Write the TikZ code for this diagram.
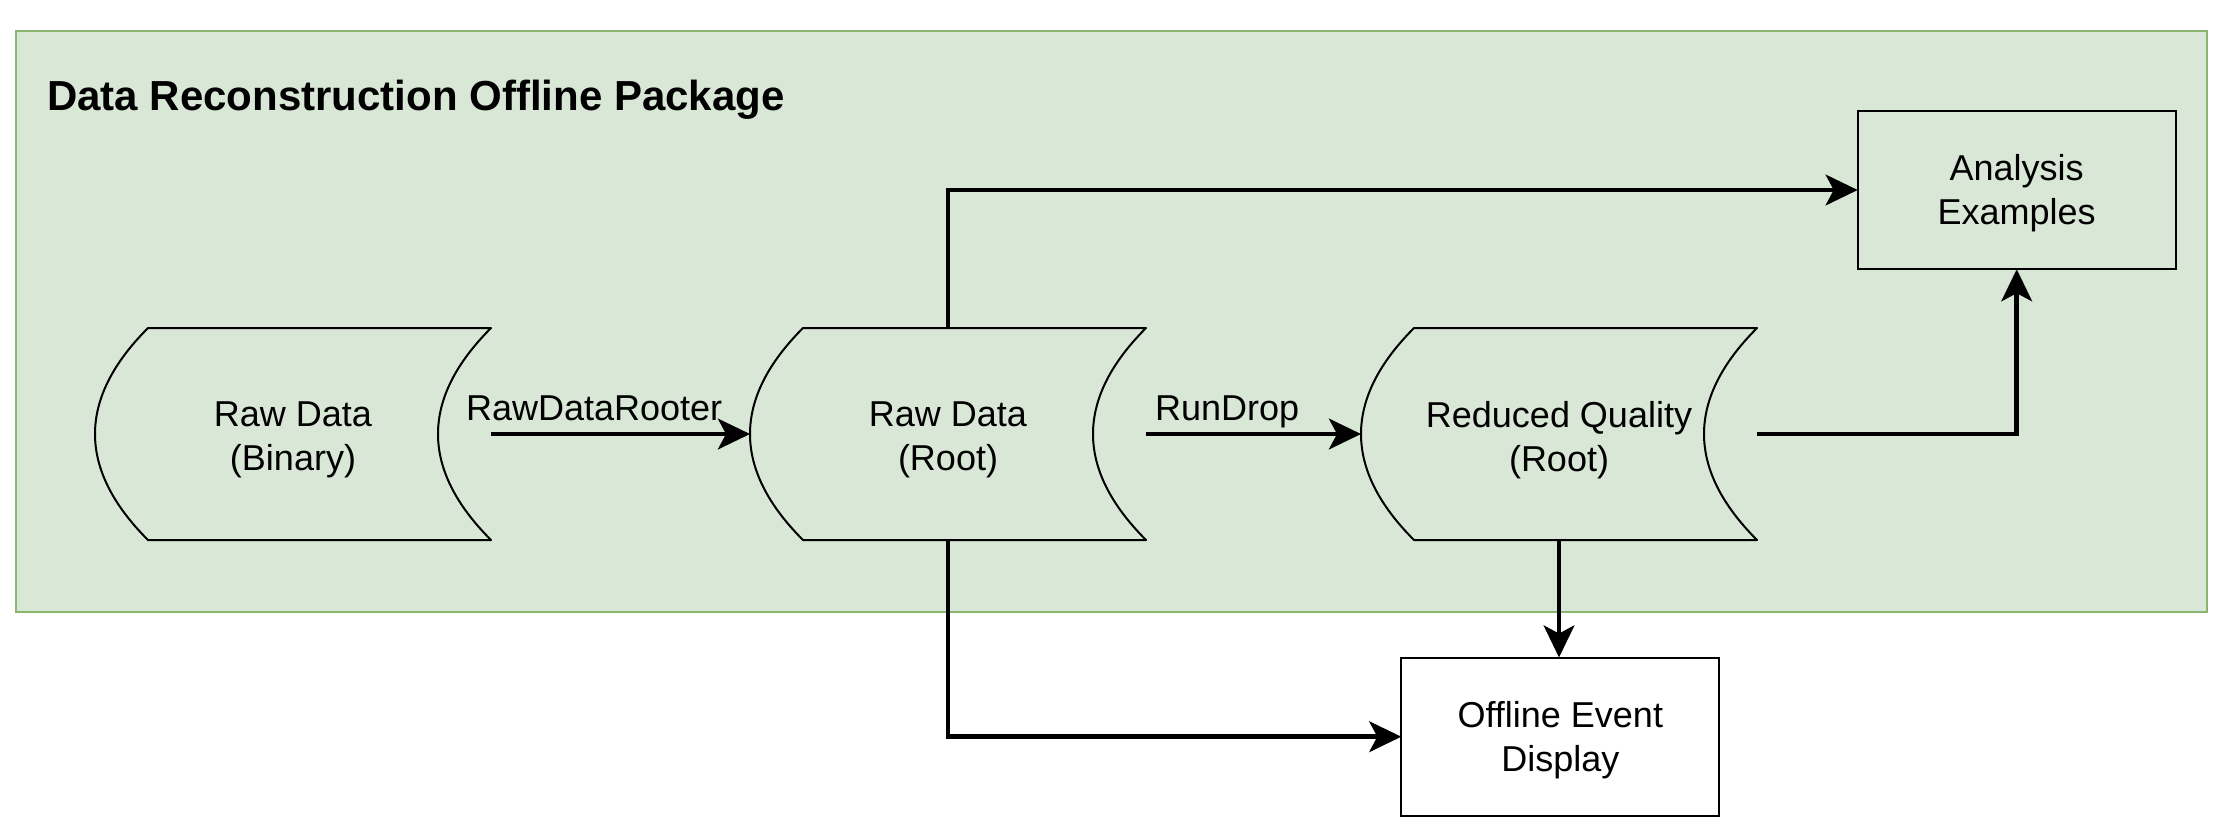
\documentclass[tikz,border=0pt]{standalone}
\usepackage{fontspec}
\setmainfont{Liberation Sans}
\usetikzlibrary{arrows.meta,calc}
\definecolor{pkgfill}{HTML}{D9E7D6}
\definecolor{pkgline}{HTML}{8AB670}
\begin{document}
\begin{tikzpicture}[x=0.5pt,y=-0.5pt,
  container/.style={draw=pkgline, fill=pkgfill, line width=1pt, minimum width=1095.7pt, minimum height=290.5pt, inner sep=0pt, outer sep=0pt},
  storebox/.style={minimum width=198pt, minimum height=106pt, inner sep=0pt, outer sep=0pt},
  procbox/.style={draw=black, line width=1pt, minimum width=159pt, minimum height=79.2pt, inner sep=0pt, outer sep=0pt},
  txt/.style={align=center, font=\fontsize{18}{22.15}\selectfont, inner sep=0pt},
  ttlstyle/.style={font=\fontsize{21}{25}\selectfont\bfseries, inner sep=0pt},
  elabel/.style={font=\fontsize{18}{22}\selectfont, inner sep=0pt, anchor=base, xshift=-13.2pt, yshift=6.65pt},
  shapeline/.style={draw=black, line width=1pt, line join=round},
  arr/.style={draw=black, line width=2.3pt, -{Stealth[length=16pt, width=15.3pt, inset=4pt]}}
]
\useasboundingbox (0,0) rectangle (2226,832);
% package container
\node[container] (pkg) at (1111.3,321.5) {};
\node[ttlstyle, anchor=base west] (ttl) at (46.7,110.7) {Data Reconstruction Offline Package};
% stored-data shapes
\node[storebox] (s1) at (293,434) {};
\node[storebox] (s2) at (948,434) {};
\node[storebox] (s3) at (1559,434) {};
\foreach \n in {s1,s2,s3}{
  \draw[shapeline] ([xshift=26.5pt]\n.north west) -- (\n.north east)
    .. controls ([xshift=-35.33pt,yshift=-35.33pt]\n.north east) and ([xshift=-35.33pt,yshift=35.33pt]\n.south east) .. (\n.south east)
    -- ([xshift=26.5pt]\n.south west)
    .. controls ([xshift=-8.83pt,yshift=35.33pt]\n.south west) and ([xshift=-8.83pt,yshift=-35.33pt]\n.north west) .. ([xshift=26.5pt]\n.north west)
    -- cycle;
}
\node[txt] (s1t) at ([yshift=-3pt]s1.center) {Raw Data\\(Binary)};
\node[txt] (s2t) at ([yshift=-3pt]s2.center) {Raw Data\\(Root)};
\node[txt] (s3t) at ([yshift=-3pt]s3.center) {Reduced Quality\\(Root)};
% process boxes
\node[procbox] (an) at (2016.7,190) {};
\node[txt] (ant) at ([yshift=-1.75pt]an.center) {Analysis\\Examples};
\node[procbox, fill=white] (oed) at (1560.3,736.7) {};
\node[txt] (oedt) at ([yshift=-1.75pt]oed.center) {Offline Event\\Display};
% connectors
\draw[arr] (s1.east) -- node[elabel] (l1) {RawDataRooter} (s2.west);
\draw[arr] (s2.east) -- node[elabel] (l2) {RunDrop} (s3.west);
\draw[arr] (s2.north) |- (an.west);
\draw[arr] (s2.south) |- (oed.west);
\draw[arr] (s3.south) -- (s3.south |- oed.north);
\draw[arr] (s3.east) -| (an.south);
\end{tikzpicture}
\end{document}
